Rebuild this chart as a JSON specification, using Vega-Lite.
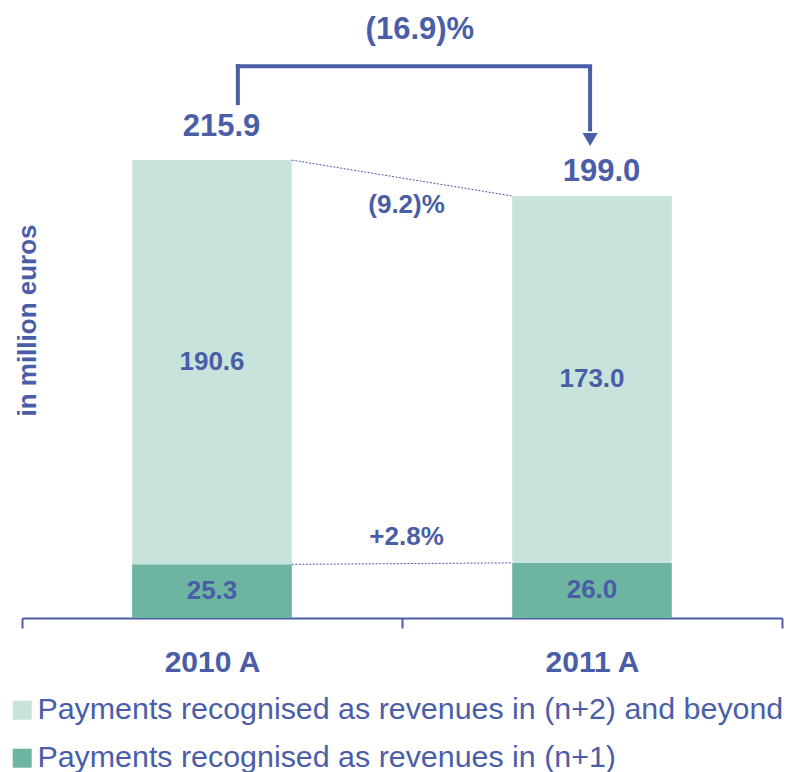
{
  "$schema": "https://vega.github.io/schema/vega-lite/v6.json",
  "width": 760,
  "height": 618,
  "autosize": "none",
  "padding": {"left": 22, "top": 0, "right": 7, "bottom": 154},
  "config": {"font": "Liberation Sans", "view": {"stroke": null}},
  "datasets": {
    "bars": [
      {"year": "2010 A", "segment": "Payments recognised as revenues in (n+1)", "value": 25.3, "ord": 1},
      {"year": "2010 A", "segment": "Payments recognised as revenues in (n+2) and beyond", "value": 190.6, "ord": 2},
      {"year": "2011 A", "segment": "Payments recognised as revenues in (n+1)", "value": 26.0, "ord": 1},
      {"year": "2011 A", "segment": "Payments recognised as revenues in (n+2) and beyond", "value": 173.0, "ord": 2}
    ],
    "totals": [
      {"year": "2010 A", "total": 215.9, "pos": 227.2},
      {"year": "2011 A", "total": 199.0, "pos": 206.0}
    ],
    "bracket": [
      {"from": "2010 A", "to": "2011 A", "top": 260.2, "start": 242.8, "end": 229.5, "tip": 225.6}
    ],
    "dotted": [
      {"from": "2010 A", "to": "2011 A", "y1": 215.9, "y2": 199.0},
      {"from": "2010 A", "to": "2011 A", "y1": 25.3, "y2": 26.0}
    ],
    "bigpct": [
      {"year": "2011 A", "label": "(16.9)%", "pos": 273.0}
    ],
    "pct": [
      {"year": "2011 A", "label": "(9.2)%", "pos": 191.0},
      {"year": "2011 A", "label": "+2.8%", "pos": 34.4}
    ]
  },
  "layer": [
    {
      "data": {"name": "bars"},
      "mark": {"type": "bar", "width": {"band": 0.42}},
      "encoding": {
        "x": {
          "field": "year", "type": "nominal",
          "scale": {"domain": ["2010 A", "2011 A"], "paddingInner": 0, "paddingOuter": 0},
          "axis": {
            "title": null, "labelAngle": 0, "labelFontSize": 30, "labelFontWeight": "bold",
            "labelColor": "#4A5EA8", "domainColor": "#4A5EA8", "domainWidth": 2,
            "tickColor": "#4A5EA8", "tickWidth": 2, "tickSize": 10, "tickBand": "extent",
            "labelPadding": 19, "grid": false
          }
        },
        "y": {
          "field": "value", "type": "quantitative", "stack": "zero",
          "scale": {"domain": [0, 291.4], "nice": false},
          "axis": {
            "title": "in million euros", "labels": false, "ticks": false, "domain": false, "grid": false,
            "titleFontSize": 26, "titleFontWeight": "bold", "titleColor": "#4A5EA8",
            "titleAngle": -90, "titleBaseline": "middle", "titleAlign": "center",
            "titleX": 5, "titleY": 320
          }
        },
        "color": {
          "field": "segment", "type": "nominal",
          "scale": {
            "domain": ["Payments recognised as revenues in (n+2) and beyond", "Payments recognised as revenues in (n+1)"],
            "range": ["#C8E3DC", "#6DB4A1"]
          },
          "legend": {
            "orient": "none", "legendX": -15, "legendY": 695, "title": null,
            "symbolType": "square", "symbolSize": 361, "symbolStrokeWidth": 0, "symbolOpacity": 1,
            "labelFontSize": 30.4, "labelColor": "#4A5EA8", "labelOffset": 0, "rowPadding": 17, "labelLimit": 2000
          }
        },
        "order": {"field": "ord", "type": "quantitative"}
      }
    },
    {
      "data": {"name": "bars"},
      "transform": [
        {"stack": "value", "groupby": ["year"], "sort": [{"field": "ord"}], "as": ["v0", "v1"]},
        {"calculate": "(datum.v0 + datum.v1) / 2", "as": "mid"}
      ],
      "mark": {"type": "text", "fontSize": 26, "fontWeight": "bold", "color": "#4A5EA8", "baseline": "middle"},
      "encoding": {
        "x": {"field": "year", "type": "nominal"},
        "y": {"field": "mid", "type": "quantitative"},
        "text": {"field": "value", "type": "quantitative", "format": ".1f"}
      }
    },
    {
      "data": {"name": "totals"},
      "mark": {"type": "text", "fontSize": 31, "fontWeight": "bold", "color": "#4A5EA8", "baseline": "alphabetic"},
      "encoding": {
        "x": {"field": "year", "type": "nominal", "bandPosition": 0.525},
        "y": {"field": "pos", "type": "quantitative"},
        "text": {"field": "total", "type": "quantitative", "format": ".1f"}
      }
    },
    {
      "data": {"name": "dotted"},
      "mark": {"type": "rule", "color": "#4A5EA8", "strokeWidth": 1, "strokeDash": [2, 1.5]},
      "encoding": {
        "x": {"field": "from", "type": "nominal", "bandPosition": 0.71},
        "x2": {"field": "to", "bandPosition": 0.29},
        "y": {"field": "y1", "type": "quantitative"},
        "y2": {"field": "y2"}
      }
    },
    {
      "data": {"name": "bracket"},
      "mark": {"type": "rule", "color": "#4A5EA8", "strokeWidth": 4, "strokeCap": "square"},
      "encoding": {
        "x": {"field": "from", "type": "nominal", "bandPosition": 0.568},
        "y": {"field": "start", "type": "quantitative"},
        "y2": {"field": "top"}
      }
    },
    {
      "data": {"name": "bracket"},
      "mark": {"type": "rule", "color": "#4A5EA8", "strokeWidth": 4, "strokeCap": "square"},
      "encoding": {
        "x": {"field": "from", "type": "nominal", "bandPosition": 0.568},
        "x2": {"field": "to", "bandPosition": 0.495},
        "y": {"field": "top", "type": "quantitative"}
      }
    },
    {
      "data": {"name": "bracket"},
      "mark": {"type": "rule", "color": "#4A5EA8", "strokeWidth": 4},
      "encoding": {
        "x": {"field": "to", "type": "nominal", "bandPosition": 0.495},
        "y": {"field": "top", "type": "quantitative"},
        "y2": {"field": "end"}
      }
    },
    {
      "data": {"name": "bracket"},
      "mark": {"type": "point", "shape": "triangle-down", "filled": true, "color": "#4A5EA8", "size": 230, "opacity": 1, "strokeWidth": 0},
      "encoding": {
        "x": {"field": "to", "type": "nominal", "bandPosition": 0.495},
        "y": {"field": "tip", "type": "quantitative"}
      }
    },
    {
      "data": {"name": "bigpct"},
      "mark": {"type": "text", "fontSize": 31, "fontWeight": "bold", "color": "#4A5EA8", "baseline": "alphabetic"},
      "encoding": {
        "x": {"field": "year", "type": "nominal", "bandPosition": 0.047},
        "y": {"field": "pos", "type": "quantitative"},
        "text": {"field": "label", "type": "nominal"}
      }
    },
    {
      "data": {"name": "pct"},
      "mark": {"type": "text", "fontSize": 26, "fontWeight": "bold", "color": "#4A5EA8", "baseline": "alphabetic"},
      "encoding": {
        "x": {"field": "year", "type": "nominal", "bandPosition": 0.012},
        "y": {"field": "pos", "type": "quantitative"},
        "text": {"field": "label", "type": "nominal"}
      }
    }
  ]
}
